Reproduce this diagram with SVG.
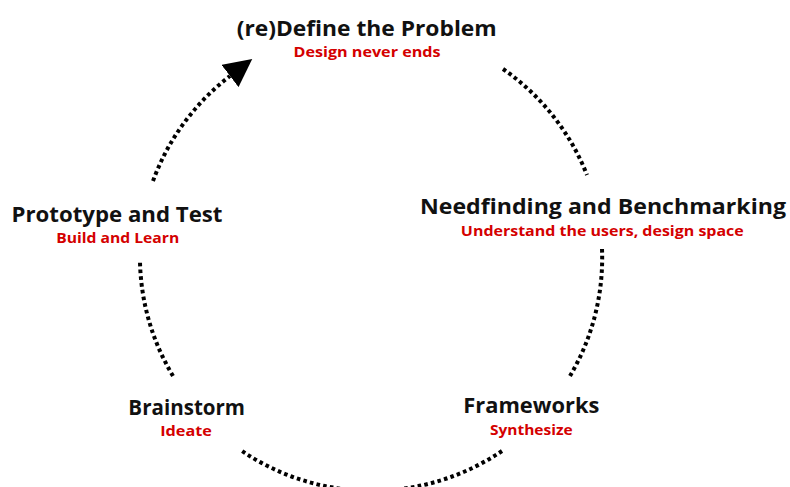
<svg xmlns="http://www.w3.org/2000/svg" width="790" height="487" viewBox="0 0 790 487">
<style>
  .t { font-family: "Century Gothic", "Open Sans", "DejaVu Sans", sans-serif; font-weight: 700; font-size: 22px; fill: #111; text-anchor: middle; }
  .s { font-family: "Century Gothic", "Open Sans", "DejaVu Sans", sans-serif; font-weight: 700; font-size: 15px; fill: #d40000; text-anchor: middle; }
  .arc { fill: none; stroke: #000; stroke-width: 4; stroke-dasharray: 3.6 3.2; }
</style>
<defs>
  <marker id="head" markerUnits="userSpaceOnUse" viewBox="0 0 28 28" refX="0" refY="14" markerWidth="28" markerHeight="28" orient="auto">
    <path d="M0,0 L28,14 L0,28 z" fill="#000"/>
  </marker>
</defs>
<rect width="790" height="487" fill="#fff"/>
<g id="connectors">
  <path class="arc" d="M503,69 A232,232 0 0 1 587,175"/>
  <path class="arc" d="M602,249 A232,232 0 0 1 570,376"/>
  <path class="arc" d="M502,451 A232,232 0 0 1 242,451"/>
  <path class="arc" d="M173,376 A232,232 0 0 1 140,262"/>
  <path class="arc" d="M153,181 A232,232 0 0 1 230,76" marker-end="url(#head)"/>
</g>
<g id="define">
  <text class="t" x="366.7" y="36" textLength="260" lengthAdjust="spacingAndGlyphs">(re)Define the Problem</text>
  <text class="s" x="367" y="56.5" textLength="147" lengthAdjust="spacingAndGlyphs">Design never ends</text>
</g>
<g id="needfinding">
  <text class="t" x="603" y="214" textLength="366" lengthAdjust="spacingAndGlyphs">Needfinding and Benchmarking</text>
  <text class="s" x="602.3" y="236" textLength="283" lengthAdjust="spacingAndGlyphs">Understand the users, design space</text>
</g>
<g id="frameworks">
  <text class="t" x="531.3" y="413" textLength="136" lengthAdjust="spacingAndGlyphs">Frameworks</text>
  <text class="s" x="531.3" y="435" textLength="82.7" lengthAdjust="spacingAndGlyphs">Synthesize</text>
</g>
<g id="brainstorm">
  <text class="t" x="186.7" y="415" textLength="116.7" lengthAdjust="spacingAndGlyphs">Brainstorm</text>
  <text class="s" x="186" y="436" textLength="51.7" lengthAdjust="spacingAndGlyphs">Ideate</text>
</g>
<g id="prototype">
  <text class="t" x="117" y="222" textLength="211" lengthAdjust="spacingAndGlyphs">Prototype and Test</text>
  <text class="s" x="117.7" y="242.5" textLength="123" lengthAdjust="spacingAndGlyphs">Build and Learn</text>
</g>
</svg>
